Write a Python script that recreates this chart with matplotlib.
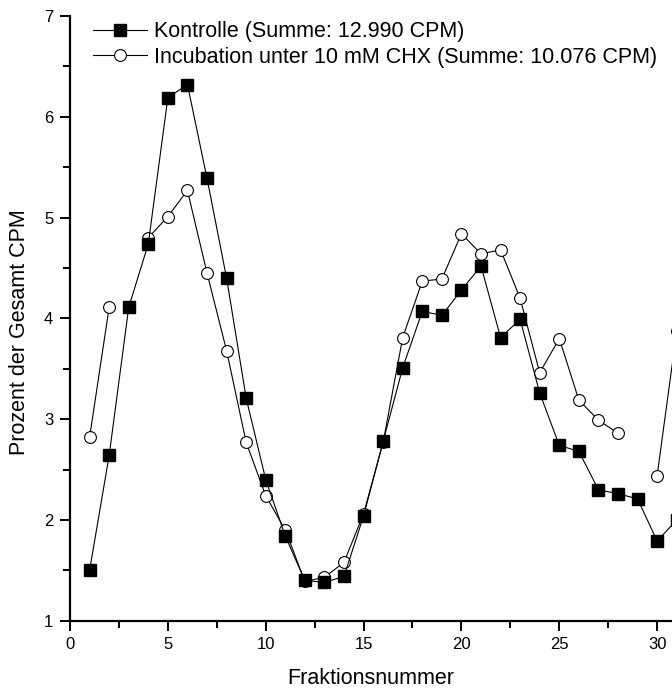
import numpy as np
import matplotlib
matplotlib.use("Agg")
import matplotlib.pyplot as plt
from matplotlib.ticker import MultipleLocator

plt.rcParams["font.family"] = ["Liberation Sans", "DejaVu Sans"]

# Fraktionen
fraktion = list(range(1, 32))

# Kontrolle (Summe: 12.990 CPM)
kontrolle = [1.50, 2.64, 4.11, 4.74, 6.19, 6.32, 5.39, 4.40, 3.21, 2.40,
             1.84, 1.40, 1.38, 1.44, 2.04, 2.78, 3.51, 4.07, 4.03, 4.28,
             4.52, 3.81, 3.99, 3.26, 2.74, 2.68, 2.30, 2.26, 2.21, 1.79,
             2.00]

# Incubation unter 10 mM CHX (Summe: 10.076 CPM), Fraktion 3 und 29 fehlen
chx = [2.82, 4.11, np.nan, 4.80, 5.01, 5.27, 4.45, 3.68, 2.77, 2.24,
       1.90, 1.39, 1.43, 1.58, 2.06, 2.77, 3.81, 4.37, 4.39, 4.84,
       4.64, 4.68, 4.20, 3.46, 3.80, 3.19, 2.99, 2.86, np.nan, 2.44,
       3.87]

label_kontrolle = "Kontrolle (Summe: 12.990 CPM)"
label_chx = "Incubation unter 10 mM CHX (Summe: 10.076 CPM)"

fig = plt.figure(figsize=(6.72, 6.91), dpi=100)
ax = fig.add_axes([0.1042, 0.1017, 0.8958, 0.8751])

ax.plot(fraktion, chx, color="black", lw=0.8, marker="o", ms=8.5,
        mfc="white", mec="black", mew=0.8, zorder=3,
        label=label_chx)
ax.plot(fraktion, kontrolle, color="black", lw=0.8, marker="s", ms=8,
        mfc="black", mec="black", zorder=4, label=label_kontrolle)

# Legende: Kontrolle zuerst
handles, labels = ax.get_legend_handles_labels()
ax.legend(handles[::-1], labels[::-1], loc="upper left",
          bbox_to_anchor=(0.038, 0.991), frameon=False, fontsize=15.5,
          handlelength=2.5, handletextpad=0.33, labelspacing=0.2,
          borderpad=0, borderaxespad=0)

ax.set_xlim(0, 30.76)
ax.set_ylim(1, 7)
ax.xaxis.set_major_locator(MultipleLocator(5))
ax.xaxis.set_minor_locator(MultipleLocator(2.5))
ax.yaxis.set_major_locator(MultipleLocator(1))
ax.yaxis.set_minor_locator(MultipleLocator(0.5))

for s in ["top", "right"]:
    ax.spines[s].set_visible(False)
for s in ["left", "bottom"]:
    ax.spines[s].set_linewidth(1.6)

ax.tick_params(which="major", direction="out", length=7, width=1.4,
               labelsize=12, pad=5)
ax.tick_params(which="minor", direction="out", length=5, width=1.4)

ax.set_xlabel("Fraktionsnummer", fontsize=15.5, labelpad=11)
ax.set_ylabel("Prozent der Gesamt CPM", fontsize=15.5)
ax.yaxis.set_label_coords(-0.066, 0.477)

fig.savefig("out.png", dpi=100)
